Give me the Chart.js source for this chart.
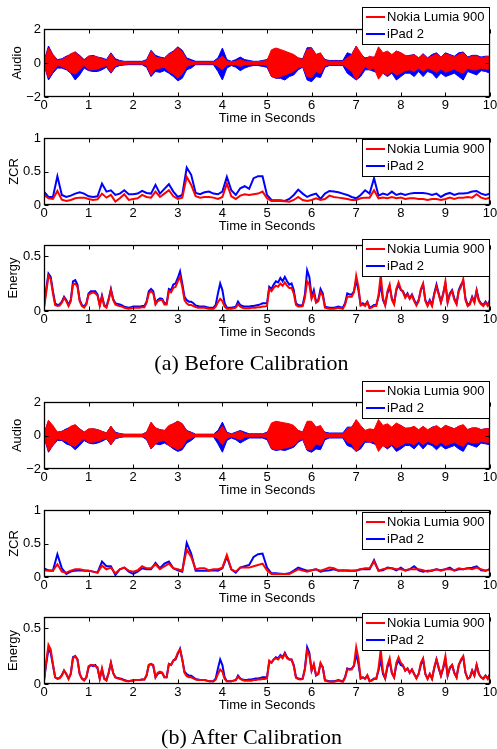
<!DOCTYPE html>
<html>
<head>
<meta charset="utf-8">
<script src="https://cdn.jsdelivr.net/npm/chart.js@4.4.1/dist/chart.umd.min.js"></script>
<style>
  body { margin: 0; background: #fff; width: 497px; height: 749px; position: relative; overflow: hidden; }
  canvas { position: absolute; left: 0; }
  .cap { position: absolute; left: 3px; width: 497px; text-align: center; color: #000;
         font-family: "Liberation Serif", "Times New Roman", serif; font-size: 22px; line-height: 26px; }
</style>
</head>
<body>
<canvas id="audioA" width="497" height="127" style="top:0px"></canvas>
<canvas id="zcrA" width="497" height="117" style="top:118px"></canvas>
<canvas id="energyA" width="497" height="111" style="top:230px"></canvas>
<div class="cap" style="top:350px">(a) Before Calibration</div>
<canvas id="audioB" width="497" height="124" style="top:375px"></canvas>
<canvas id="zcrB" width="497" height="113" style="top:494px"></canvas>
<canvas id="energyB" width="497" height="114" style="top:600px"></canvas>
<div class="cap" style="top:724px">(b) After Calibration</div>

<script>
// series: index 0 = Nokia (red), index 1 = iPad (blue)
const seriesNames = ['Nokia Lumia 900', 'iPad 2'];
const seriesColors = ['#ff0000', '#0000ff'];

const xTicks = [0, 1, 2, 3, 4, 5, 6, 7, 8, 9, 10];
const audioTicks = [-2, 0, 2];
const zcrTicks = [0, 0.5, 1];
const energyTicks = [0, 0.5];

// sample grids (seconds)
const audioTimes = Array.from({length: 101}, (_, i) => i / 10);
const zcrTimes = Array.from({length: 101}, (_, i) => i / 10);
const energyTimes = Array.from({length: 201}, (_, i) => i / 20);

// ---- audio envelopes, every 0.1 s ----
const blueUpA = [
  0.1, 1.0, 0.5, 0.2, 0.25, 0.4, 0.5, 0.65, 0.45, 0.2,
  0.4, 0.45, 0.35, 0.3, 0.2, 0.6, 0.25, 0.15, 0.1, 0.1,
  0.1, 0.1, 0.1, 0.2, 0.75, 0.45, 0.35, 0.3, 0.55, 0.7,
  0.95, 0.75, 0.3, 0.2, 0.1, 0.1, 0.1, 0.1, 0.1, 0.3,
  0.88, 0.2, 0.1, 0.2, 0.35, 0.2, 0.15, 0.1, 0.1, 0.15,
  0.2, 0.5, 0.6, 0.6, 0.55, 0.5, 0.45, 0.3, 0.25, 0.9,
  0.9, 0.5, 0.55, 0.2, 0.15, 0.15, 0.15, 0.15, 0.6, 0.5,
  1.0, 0.5, 0.3, 0.35, 0.35, 0.5, 0.5, 0.6, 0.4, 0.7,
  0.6, 0.4, 0.45, 0.5, 0.3, 0.55, 0.3, 0.5, 0.6, 0.35,
  0.6, 0.5, 0.4, 0.6, 0.65, 0.35, 0.45, 0.45, 0.35, 0.4,
  0.4
];
const blueDownA = [
  -0.1, -1.0, -0.6, -0.3, -0.3, -0.4, -0.6, -1.0, -0.7, -0.3,
  -0.45, -0.5, -0.5, -0.4, -0.25, -0.6, -0.25, -0.15, -0.12, -0.1,
  -0.1, -0.1, -0.1, -0.25, -0.8, -0.5, -0.55, -0.45, -0.6, -0.8,
  -1.05, -0.9, -0.4, -0.3, -0.1, -0.1, -0.1, -0.1, -0.1, -0.5,
  -1.0, -0.3, -0.15, -0.25, -0.45, -0.3, -0.2, -0.15, -0.15, -0.2,
  -0.25, -0.8, -0.9, -0.9, -1.0, -0.8, -0.7, -0.4, -0.25, -1.0,
  -1.1, -0.8, -0.85, -0.25, -0.15, -0.15, -0.15, -0.15, -0.6, -0.8,
  -1.0, -0.8, -0.4, -0.4, -0.5, -0.6, -0.6, -0.8, -0.6, -1.0,
  -0.8, -0.6, -0.6, -0.8, -0.5, -0.8, -0.5, -0.6, -0.9, -0.6,
  -0.8, -0.7, -0.6, -0.8, -1.0, -0.5, -0.6, -0.7, -0.45, -0.5,
  -0.6
];
const redAmpA = [
  0.1, 0.88, 0.5, 0.15, 0.2, 0.35, 0.55, 0.65, 0.4, 0.15,
  0.4, 0.4, 0.35, 0.25, 0.15, 0.55, 0.15, 0.1, 0.08, 0.06,
  0.06, 0.06, 0.06, 0.15, 0.7, 0.35, 0.3, 0.25, 0.5, 0.65,
  0.9, 0.65, 0.2, 0.1, 0.06, 0.06, 0.06, 0.06, 0.06, 0.2,
  0.4, 0.1, 0.08, 0.1, 0.2, 0.1, 0.08, 0.08, 0.08, 0.1,
  0.15, 0.78, 0.88, 0.8, 0.7, 0.6, 0.5, 0.3, 0.2, 0.8,
  0.85, 0.5, 0.6, 0.15, 0.1, 0.1, 0.1, 0.1, 0.3, 0.5,
  0.98, 0.6, 0.2, 0.4, 0.3, 0.95, 0.6, 0.7, 0.5, 0.7,
  0.6, 0.45, 0.4, 0.5, 0.3, 0.5, 0.3, 0.4, 0.55, 0.35,
  0.55, 0.45, 0.35, 0.5, 0.6, 0.3, 0.4, 0.4, 0.3, 0.35,
  0.4
];
const blueUpB = [
  0.1, 0.9, 0.5, 0.2, 0.25, 0.4, 0.5, 0.6, 0.4, 0.2,
  0.35, 0.4, 0.35, 0.25, 0.15, 0.55, 0.2, 0.12, 0.08, 0.08,
  0.08, 0.08, 0.08, 0.2, 0.75, 0.45, 0.35, 0.3, 0.55, 0.7,
  0.85, 0.7, 0.3, 0.2, 0.08, 0.08, 0.08, 0.08, 0.08, 0.3,
  0.8, 0.2, 0.1, 0.2, 0.3, 0.2, 0.1, 0.1, 0.1, 0.1,
  0.2, 0.5, 0.6, 0.6, 0.55, 0.5, 0.45, 0.3, 0.2, 0.8,
  0.8, 0.5, 0.5, 0.2, 0.15, 0.15, 0.15, 0.15, 0.5, 0.5,
  0.9, 0.5, 0.3, 0.35, 0.35, 0.5, 0.5, 0.6, 0.4, 0.65,
  0.6, 0.4, 0.45, 0.5, 0.3, 0.5, 0.3, 0.5, 0.55, 0.35,
  0.6, 0.5, 0.4, 0.55, 0.6, 0.35, 0.45, 0.45, 0.35, 0.4,
  0.4
];
const blueDownB = [
  -0.1, -1.0, -0.6, -0.3, -0.3, -0.5, -0.6, -0.85, -0.6, -0.3,
  -0.45, -0.5, -0.45, -0.35, -0.2, -0.55, -0.2, -0.12, -0.08, -0.08,
  -0.08, -0.08, -0.08, -0.25, -0.8, -0.5, -0.55, -0.45, -0.6, -0.8,
  -0.95, -0.85, -0.45, -0.3, -0.08, -0.08, -0.08, -0.08, -0.08, -0.5,
  -1.0, -0.3, -0.15, -0.25, -0.45, -0.3, -0.15, -0.15, -0.15, -0.15,
  -0.25, -0.8, -0.9, -0.85, -0.9, -0.8, -0.7, -0.4, -0.25, -0.9,
  -1.0, -0.8, -0.85, -0.25, -0.15, -0.15, -0.15, -0.15, -0.6, -0.7,
  -0.95, -0.8, -0.4, -0.4, -0.5, -0.6, -0.6, -0.8, -0.6, -0.95,
  -0.8, -0.6, -0.6, -0.8, -0.5, -0.8, -0.5, -0.6, -0.85, -0.6,
  -0.8, -0.7, -0.6, -0.8, -0.95, -0.5, -0.6, -0.7, -0.45, -0.5,
  -0.55
];
const redAmpB = [
  0.1, 0.9, 0.6, 0.2, 0.25, 0.35, 0.55, 0.65, 0.4, 0.2,
  0.4, 0.4, 0.35, 0.25, 0.15, 0.55, 0.15, 0.1, 0.06, 0.06,
  0.06, 0.06, 0.06, 0.2, 0.8, 0.45, 0.35, 0.3, 0.6, 0.7,
  0.85, 0.7, 0.25, 0.15, 0.06, 0.06, 0.06, 0.06, 0.06, 0.2,
  0.55, 0.15, 0.08, 0.15, 0.25, 0.1, 0.08, 0.08, 0.08, 0.08,
  0.15, 0.75, 0.85, 0.8, 0.75, 0.7, 0.6, 0.3, 0.2, 0.85,
  0.85, 0.5, 0.6, 0.15, 0.1, 0.1, 0.1, 0.1, 0.4, 0.5,
  0.95, 0.6, 0.3, 0.4, 0.35, 0.95, 0.6, 0.7, 0.5, 0.75,
  0.6, 0.45, 0.45, 0.55, 0.35, 0.55, 0.35, 0.45, 0.6, 0.4,
  0.6, 0.5, 0.4, 0.55, 0.65, 0.35, 0.45, 0.45, 0.35, 0.4,
  0.4
];

// ---- zero crossing rate, every 0.1 s ----
const zcrBlueA = [
  0.20, 0.12, 0.12, 0.43, 0.15, 0.12, 0.14, 0.17, 0.19, 0.17,
  0.13, 0.12, 0.13, 0.32, 0.20, 0.22, 0.15, 0.17, 0.22, 0.16,
  0.16, 0.17, 0.21, 0.18, 0.17, 0.30, 0.17, 0.24, 0.31, 0.20,
  0.12, 0.15, 0.56, 0.45, 0.18, 0.16, 0.19, 0.20, 0.17, 0.16,
  0.20, 0.42, 0.22, 0.15, 0.25, 0.28, 0.24, 0.40, 0.43, 0.43,
  0.15, 0.075, 0.07, 0.07, 0.06, 0.09, 0.15, 0.23, 0.17, 0.12,
  0.15, 0.17, 0.09, 0.17, 0.21, 0.20, 0.19, 0.17, 0.15, 0.12,
  0.10, 0.15, 0.22, 0.17, 0.40, 0.14, 0.17, 0.15, 0.20, 0.15,
  0.17, 0.15, 0.17, 0.18, 0.18, 0.18, 0.17, 0.15, 0.17, 0.12,
  0.16, 0.18, 0.15, 0.17, 0.17, 0.18, 0.20, 0.21, 0.17, 0.15,
  0.17
];
const zcrRedA = [
  0.15, 0.10, 0.09, 0.21, 0.08, 0.06, 0.075, 0.10, 0.11, 0.11,
  0.09, 0.075, 0.085, 0.17, 0.11, 0.15, 0.05, 0.10, 0.16, 0.075,
  0.09, 0.10, 0.15, 0.12, 0.11, 0.20, 0.12, 0.17, 0.22, 0.13,
  0.09, 0.11, 0.42, 0.30, 0.13, 0.11, 0.12, 0.12, 0.11, 0.09,
  0.12, 0.32, 0.13, 0.09, 0.14, 0.16, 0.15, 0.16, 0.17, 0.20,
  0.10, 0.06, 0.06, 0.06, 0.055, 0.05, 0.075, 0.12, 0.075, 0.06,
  0.075, 0.10, 0.075, 0.09, 0.14, 0.12, 0.11, 0.10, 0.09, 0.075,
  0.075, 0.10, 0.11, 0.11, 0.22, 0.10, 0.11, 0.10, 0.12, 0.10,
  0.11, 0.09, 0.10, 0.10, 0.09, 0.09, 0.075, 0.09, 0.09, 0.075,
  0.09, 0.11, 0.09, 0.11, 0.11, 0.12, 0.11, 0.16, 0.11, 0.09,
  0.11
];
const zcrBlueB = [
  0.13, 0.10, 0.095, 0.34, 0.13, 0.045, 0.08, 0.095, 0.10, 0.095,
  0.095, 0.08, 0.065, 0.23, 0.16, 0.16, 0.03, 0.115, 0.14, 0.08,
  0.045, 0.08, 0.13, 0.115, 0.115, 0.21, 0.13, 0.20, 0.23, 0.13,
  0.10, 0.08, 0.51, 0.35, 0.095, 0.095, 0.095, 0.095, 0.10, 0.095,
  0.13, 0.30, 0.115, 0.065, 0.14, 0.16, 0.18, 0.30, 0.34, 0.35,
  0.14, 0.055, 0.055, 0.05, 0.045, 0.055, 0.095, 0.14, 0.115, 0.095,
  0.10, 0.115, 0.08, 0.095, 0.10, 0.115, 0.095, 0.10, 0.095, 0.095,
  0.095, 0.115, 0.115, 0.115, 0.25, 0.095, 0.10, 0.14, 0.13, 0.10,
  0.14, 0.095, 0.115, 0.16, 0.10, 0.08, 0.095, 0.095, 0.115, 0.10,
  0.115, 0.14, 0.095, 0.115, 0.115, 0.13, 0.14, 0.16, 0.10, 0.095,
  0.115
];
const zcrRedB = [
  0.10, 0.095, 0.095, 0.19, 0.08, 0.065, 0.095, 0.115, 0.115, 0.10,
  0.095, 0.08, 0.065, 0.17, 0.115, 0.14, 0.055, 0.115, 0.14, 0.095,
  0.08, 0.10, 0.16, 0.13, 0.13, 0.19, 0.115, 0.16, 0.20, 0.13,
  0.115, 0.095, 0.41, 0.30, 0.115, 0.13, 0.13, 0.10, 0.115, 0.115,
  0.14, 0.33, 0.115, 0.08, 0.14, 0.14, 0.14, 0.16, 0.18, 0.20,
  0.10, 0.045, 0.045, 0.045, 0.045, 0.045, 0.08, 0.115, 0.095, 0.08,
  0.10, 0.115, 0.095, 0.115, 0.14, 0.13, 0.10, 0.095, 0.10, 0.095,
  0.10, 0.115, 0.13, 0.13, 0.23, 0.095, 0.115, 0.13, 0.13, 0.115,
  0.115, 0.10, 0.115, 0.115, 0.115, 0.10, 0.08, 0.10, 0.115, 0.095,
  0.115, 0.115, 0.10, 0.13, 0.115, 0.13, 0.115, 0.14, 0.115, 0.095,
  0.115
];

// ---- short-time energy, every 0.05 s ----
const energyBlueA = [
  0.04, 0.20, 0.34, 0.31, 0.18, 0.07, 0.055, 0.06, 0.085, 0.13,
  0.10, 0.055, 0.10, 0.27, 0.28, 0.24, 0.10, 0.055, 0.04, 0.07,
  0.16, 0.18, 0.18, 0.18, 0.15, 0.055, 0.14, 0.055, 0.04, 0.11,
  0.20, 0.11, 0.07, 0.065, 0.06, 0.05, 0.04, 0.035, 0.03, 0.035,
  0.04, 0.04, 0.04, 0.04, 0.045, 0.045, 0.085, 0.18, 0.20, 0.18,
  0.07, 0.10, 0.115, 0.11, 0.07, 0.07, 0.20, 0.19, 0.24, 0.25,
  0.30, 0.36, 0.25, 0.13, 0.10, 0.085, 0.085, 0.07, 0.05, 0.045,
  0.04, 0.04, 0.04, 0.035, 0.03, 0.03, 0.03, 0.055, 0.16, 0.25,
  0.19, 0.07, 0.03, 0.03, 0.03, 0.035, 0.04, 0.085, 0.055, 0.045,
  0.04, 0.04, 0.04, 0.045, 0.045, 0.05, 0.055, 0.06, 0.07, 0.07,
  0.07, 0.22, 0.20, 0.24, 0.27, 0.26, 0.30, 0.27, 0.31, 0.27,
  0.24, 0.25, 0.19, 0.07, 0.055, 0.05, 0.055, 0.15, 0.37, 0.31,
  0.13, 0.19, 0.085, 0.10, 0.20, 0.16, 0.04, 0.035, 0.03, 0.03,
  0.03, 0.035, 0.04, 0.035, 0.03, 0.07, 0.16, 0.15, 0.15, 0.18,
  0.28, 0.19, 0.055, 0.07, 0.055, 0.085, 0.03, 0.04, 0.055, 0.055,
  0.13, 0.24, 0.10, 0.055, 0.16, 0.22, 0.115, 0.07, 0.19, 0.24,
  0.19, 0.18, 0.13, 0.16, 0.115, 0.15, 0.10, 0.06, 0.10, 0.19,
  0.24, 0.10, 0.055, 0.10, 0.055, 0.16, 0.24, 0.16, 0.085, 0.16,
  0.25, 0.085, 0.16, 0.19, 0.115, 0.07, 0.19, 0.24, 0.27, 0.115,
  0.055, 0.07, 0.13, 0.085, 0.19, 0.10, 0.07, 0.055, 0.085, 0.055,
  0.10
];
const energyRedA = [
  0.03, 0.17, 0.32, 0.29, 0.16, 0.055, 0.045, 0.05, 0.075, 0.12,
  0.09, 0.045, 0.09, 0.24, 0.25, 0.22, 0.09, 0.045, 0.03, 0.06,
  0.15, 0.16, 0.17, 0.16, 0.14, 0.045, 0.13, 0.045, 0.03, 0.10,
  0.19, 0.10, 0.06, 0.05, 0.045, 0.04, 0.03, 0.025, 0.02, 0.025,
  0.03, 0.03, 0.03, 0.03, 0.035, 0.035, 0.075, 0.16, 0.18, 0.16,
  0.06, 0.09, 0.10, 0.10, 0.06, 0.06, 0.18, 0.17, 0.21, 0.22,
  0.27, 0.31, 0.22, 0.10, 0.07, 0.055, 0.055, 0.045, 0.035, 0.03,
  0.03, 0.03, 0.03, 0.025, 0.02, 0.02, 0.02, 0.04, 0.08, 0.11,
  0.09, 0.04, 0.02, 0.02, 0.02, 0.025, 0.03, 0.06, 0.04, 0.03,
  0.025, 0.025, 0.025, 0.03, 0.03, 0.03, 0.035, 0.035, 0.04, 0.04,
  0.045, 0.20, 0.18, 0.21, 0.23, 0.22, 0.25, 0.23, 0.26, 0.23,
  0.21, 0.21, 0.16, 0.055, 0.04, 0.04, 0.045, 0.12, 0.27, 0.24,
  0.11, 0.16, 0.075, 0.09, 0.17, 0.14, 0.03, 0.025, 0.02, 0.02,
  0.02, 0.025, 0.03, 0.025, 0.02, 0.055, 0.13, 0.13, 0.13, 0.17,
  0.32, 0.22, 0.05, 0.06, 0.045, 0.08, 0.025, 0.03, 0.045, 0.045,
  0.14, 0.33, 0.12, 0.05, 0.18, 0.24, 0.10, 0.06, 0.20, 0.26,
  0.20, 0.17, 0.12, 0.15, 0.11, 0.14, 0.09, 0.05, 0.09, 0.20,
  0.25, 0.09, 0.045, 0.09, 0.045, 0.15, 0.22, 0.15, 0.075, 0.15,
  0.27, 0.075, 0.15, 0.18, 0.10, 0.06, 0.18, 0.22, 0.29, 0.10,
  0.045, 0.06, 0.12, 0.075, 0.18, 0.09, 0.06, 0.045, 0.075, 0.045,
  0.09
];
const energyBlueB = [
  0.03, 0.18, 0.31, 0.28, 0.17, 0.06, 0.05, 0.055, 0.08, 0.12,
  0.09, 0.05, 0.09, 0.24, 0.25, 0.22, 0.09, 0.05, 0.035, 0.06,
  0.15, 0.17, 0.16, 0.17, 0.14, 0.05, 0.13, 0.05, 0.035, 0.10,
  0.19, 0.10, 0.06, 0.055, 0.05, 0.045, 0.035, 0.03, 0.025, 0.03,
  0.03, 0.035, 0.035, 0.035, 0.04, 0.04, 0.075, 0.17, 0.18, 0.16,
  0.06, 0.09, 0.10, 0.10, 0.06, 0.06, 0.18, 0.17, 0.21, 0.22,
  0.27, 0.315, 0.22, 0.11, 0.09, 0.075, 0.075, 0.06, 0.045, 0.04,
  0.035, 0.035, 0.035, 0.03, 0.025, 0.025, 0.025, 0.05, 0.14, 0.22,
  0.17, 0.06, 0.025, 0.025, 0.025, 0.03, 0.035, 0.075, 0.05, 0.04,
  0.035, 0.035, 0.04, 0.04, 0.045, 0.05, 0.05, 0.055, 0.06, 0.06,
  0.06, 0.20, 0.19, 0.22, 0.24, 0.23, 0.26, 0.24, 0.28, 0.24,
  0.22, 0.22, 0.17, 0.06, 0.05, 0.045, 0.05, 0.14, 0.33, 0.28,
  0.12, 0.17, 0.075, 0.09, 0.18, 0.15, 0.035, 0.03, 0.025, 0.025,
  0.025, 0.03, 0.035, 0.03, 0.025, 0.06, 0.14, 0.13, 0.14, 0.16,
  0.27, 0.18, 0.05, 0.06, 0.05, 0.075, 0.025, 0.035, 0.05, 0.05,
  0.12, 0.22, 0.09, 0.05, 0.15, 0.20, 0.10, 0.06, 0.17, 0.21,
  0.17, 0.16, 0.12, 0.14, 0.10, 0.13, 0.09, 0.055, 0.09, 0.17,
  0.22, 0.09, 0.05, 0.09, 0.05, 0.14, 0.22, 0.14, 0.075, 0.14,
  0.22, 0.075, 0.14, 0.17, 0.10, 0.06, 0.17, 0.21, 0.24, 0.10,
  0.05, 0.06, 0.12, 0.075, 0.17, 0.09, 0.06, 0.05, 0.075, 0.05,
  0.09
];
const energyRedB = [
  0.035, 0.20, 0.35, 0.31, 0.18, 0.06, 0.045, 0.05, 0.075, 0.12,
  0.09, 0.045, 0.09, 0.23, 0.25, 0.22, 0.09, 0.045, 0.03, 0.06,
  0.16, 0.17, 0.17, 0.16, 0.15, 0.045, 0.14, 0.045, 0.03, 0.10,
  0.19, 0.10, 0.06, 0.05, 0.045, 0.04, 0.03, 0.025, 0.025, 0.03,
  0.035, 0.035, 0.035, 0.035, 0.04, 0.04, 0.08, 0.17, 0.18, 0.17,
  0.06, 0.10, 0.11, 0.10, 0.06, 0.06, 0.18, 0.17, 0.21, 0.23,
  0.28, 0.31, 0.22, 0.10, 0.07, 0.06, 0.06, 0.05, 0.04, 0.035,
  0.035, 0.035, 0.035, 0.03, 0.025, 0.025, 0.025, 0.04, 0.09, 0.13,
  0.11, 0.045, 0.025, 0.025, 0.025, 0.03, 0.035, 0.065, 0.045, 0.035,
  0.03, 0.03, 0.03, 0.03, 0.035, 0.035, 0.04, 0.04, 0.045, 0.045,
  0.05, 0.21, 0.19, 0.22, 0.23, 0.22, 0.25, 0.23, 0.27, 0.23,
  0.22, 0.22, 0.16, 0.055, 0.045, 0.04, 0.045, 0.13, 0.30, 0.26,
  0.12, 0.18, 0.08, 0.09, 0.19, 0.15, 0.03, 0.025, 0.02, 0.02,
  0.02, 0.025, 0.03, 0.025, 0.02, 0.055, 0.13, 0.13, 0.13, 0.17,
  0.33, 0.23, 0.05, 0.06, 0.045, 0.08, 0.025, 0.03, 0.045, 0.045,
  0.14, 0.31, 0.11, 0.05, 0.17, 0.23, 0.10, 0.06, 0.19, 0.24,
  0.19, 0.17, 0.12, 0.14, 0.10, 0.13, 0.09, 0.05, 0.09, 0.19,
  0.23, 0.09, 0.045, 0.09, 0.045, 0.15, 0.22, 0.15, 0.075, 0.15,
  0.25, 0.075, 0.15, 0.17, 0.10, 0.06, 0.17, 0.22, 0.25, 0.10,
  0.045, 0.06, 0.12, 0.075, 0.17, 0.09, 0.06, 0.045, 0.075, 0.045,
  0.085
];

Chart.defaults.font.family = '"Liberation Sans", Arial, Helvetica, sans-serif';
Chart.defaults.color = '#000';

const axisFont = {size: 13};

function xy(times, values) {
    return values.map((v, i) => ({x: times[i], y: v}));
}

// MATLAB style box with inward tick marks
const matlabAxes = {
    id: 'matlabAxes',
    afterDatasetsDraw(chart) {
        const {ctx, chartArea: a, scales: {x, y}} = chart;
        const L = Math.round(a.left) + 0.5, R = Math.round(a.right) - 0.5;
        const T = Math.round(a.top) + 0.5, B = Math.round(a.bottom) - 0.5;
        ctx.save();
        ctx.strokeStyle = '#000';
        ctx.lineWidth = 1;
        ctx.beginPath();
        x.ticks.forEach(t => {
            const px = Math.round(x.getPixelForValue(t.value)) + 0.5;
            ctx.moveTo(px, B); ctx.lineTo(px, B - 4);
            ctx.moveTo(px, T); ctx.lineTo(px, T + 4);
        });
        y.ticks.forEach(t => {
            const py = Math.round(y.getPixelForValue(t.value)) + 0.5;
            ctx.moveTo(L, py); ctx.lineTo(L + 4, py);
            ctx.moveTo(R, py); ctx.lineTo(R - 4, py);
        });
        ctx.stroke();
        ctx.lineWidth = 1.3;
        ctx.strokeRect(L, T, R - L, B - T);
        ctx.restore();
    }
};

// boxed legend in the upper right corner
const boxLegend = {
    id: 'boxLegend',
    afterDraw(chart, args, opts) {
        const {ctx, chartArea: a} = chart;
        const w = 127, h = 37;
        const left = Math.round(a.right) - 1 - w;
        const top = Math.round(a.top) + opts.offset;
        ctx.save();
        ctx.fillStyle = '#fff';
        ctx.fillRect(left, top, w, h);
        ctx.strokeStyle = '#000';
        ctx.lineWidth = 1;
        ctx.strokeRect(left + 0.5, top + 0.5, w, h);
        ctx.font = '13px "Liberation Sans", Arial, sans-serif';
        ctx.textBaseline = 'middle';
        seriesNames.forEach((name, i) => {
            const cy = top + 10 + i * 17;
            ctx.strokeStyle = seriesColors[i];
            ctx.lineWidth = 2;
            ctx.beginPath();
            ctx.moveTo(left + 4, cy);
            ctx.lineTo(left + 23, cy);
            ctx.stroke();
            ctx.fillStyle = '#000';
            ctx.fillText(name, left + 25, cy);
        });
        ctx.restore();
    }
};

function makeChart(id, cfg) {
    return new Chart(document.getElementById(id), {
        type: 'line',
        data: {datasets: cfg.datasets},
        options: {
            responsive: false,
            animation: false,
            events: [],
            layout: {padding: {top: cfg.padTop, right: 7, bottom: 0, left: 0}},
            elements: {point: {radius: 0}, line: {tension: 0}},
            plugins: {
                legend: {display: false},
                tooltip: {enabled: false},
                boxLegend: {offset: cfg.legendOffset}
            },
            scales: {
                x: {
                    type: 'linear', min: 0, max: 10,
                    afterBuildTicks: s => { s.ticks = xTicks.map(v => ({value: v})); },
                    afterFit: s => { s.height = 30; s.paddingLeft = 0; s.paddingRight = 0; },
                    grid: {display: false, drawTicks: false},
                    border: {display: false},
                    ticks: {font: axisFont, color: '#000', padding: 1, maxRotation: 0, autoSkip: false},
                    title: {display: true, text: 'Time in Seconds', font: axisFont, color: '#000', padding: {top: 0, bottom: 1}}
                },
                y: {
                    min: cfg.yMin, max: cfg.yMax,
                    afterBuildTicks: s => { s.ticks = cfg.yTicks.map(v => ({value: v})); },
                    afterFit: s => { s.width = 44; s.paddingTop = 0; s.paddingBottom = 0; },
                    grid: {display: false, drawTicks: false},
                    border: {display: false},
                    ticks: {font: axisFont, color: '#000', padding: 3, callback: v => String(v).replace('-', '\u2212')},
                    title: {display: true, text: cfg.yTitle, font: axisFont, color: '#000', padding: {top: cfg.titlePad, bottom: 0}}
                }
            }
        },
        plugins: [matlabAxes, boxLegend]
    });
}

function audioSets(redAmp, blueUp, blueDown) {
    const band = (data, color, fill) => ({
        data, fill, borderColor: color, backgroundColor: color, borderWidth: 1
    });
    return [
        band(xy(audioTimes, redAmp), seriesColors[0], '+1'),
        band(xy(audioTimes, redAmp.map(v => -v)), seriesColors[0], false),
        band(xy(audioTimes, blueUp), seriesColors[1], '+1'),
        band(xy(audioTimes, blueDown), seriesColors[1], false)
    ];
}

function curveSets(times, red, blue) {
    return [
        {data: xy(times, red), borderColor: seriesColors[0], borderWidth: 2, fill: false},
        {data: xy(times, blue), borderColor: seriesColors[1], borderWidth: 2, fill: false}
    ];
}

makeChart('audioA', {
    datasets: audioSets(redAmpA, blueUpA, blueDownA),
    yMin: -2, yMax: 2, yTicks: audioTicks, yTitle: 'Audio', titlePad: 10, padTop: 29, legendOffset: -22
});
makeChart('zcrA', {
    datasets: curveSets(zcrTimes, zcrRedA, zcrBlueA),
    yMin: 0, yMax: 1, yTicks: zcrTicks, yTitle: 'ZCR', titlePad: 7, padTop: 20, legendOffset: 1
});
makeChart('energyA', {
    datasets: curveSets(energyTimes, energyRedA, energyBlueA),
    yMin: 0, yMax: 0.6, yTicks: energyTicks, yTitle: 'Energy', titlePad: 6, padTop: 15, legendOffset: -6
});
makeChart('audioB', {
    datasets: audioSets(redAmpB, blueUpB, blueDownB),
    yMin: -2, yMax: 2, yTicks: audioTicks, yTitle: 'Audio', titlePad: 10, padTop: 27, legendOffset: -21
});
makeChart('zcrB', {
    datasets: curveSets(zcrTimes, zcrRedB, zcrBlueB),
    yMin: 0, yMax: 1, yTicks: zcrTicks, yTitle: 'ZCR', titlePad: 7, padTop: 16, legendOffset: 2
});
makeChart('energyB', {
    datasets: curveSets(energyTimes, energyRedB, energyBlueB),
    yMin: 0, yMax: 0.6, yTicks: energyTicks, yTitle: 'Energy', titlePad: 6, padTop: 17, legendOffset: -4
});
</script>
</body>
</html>
